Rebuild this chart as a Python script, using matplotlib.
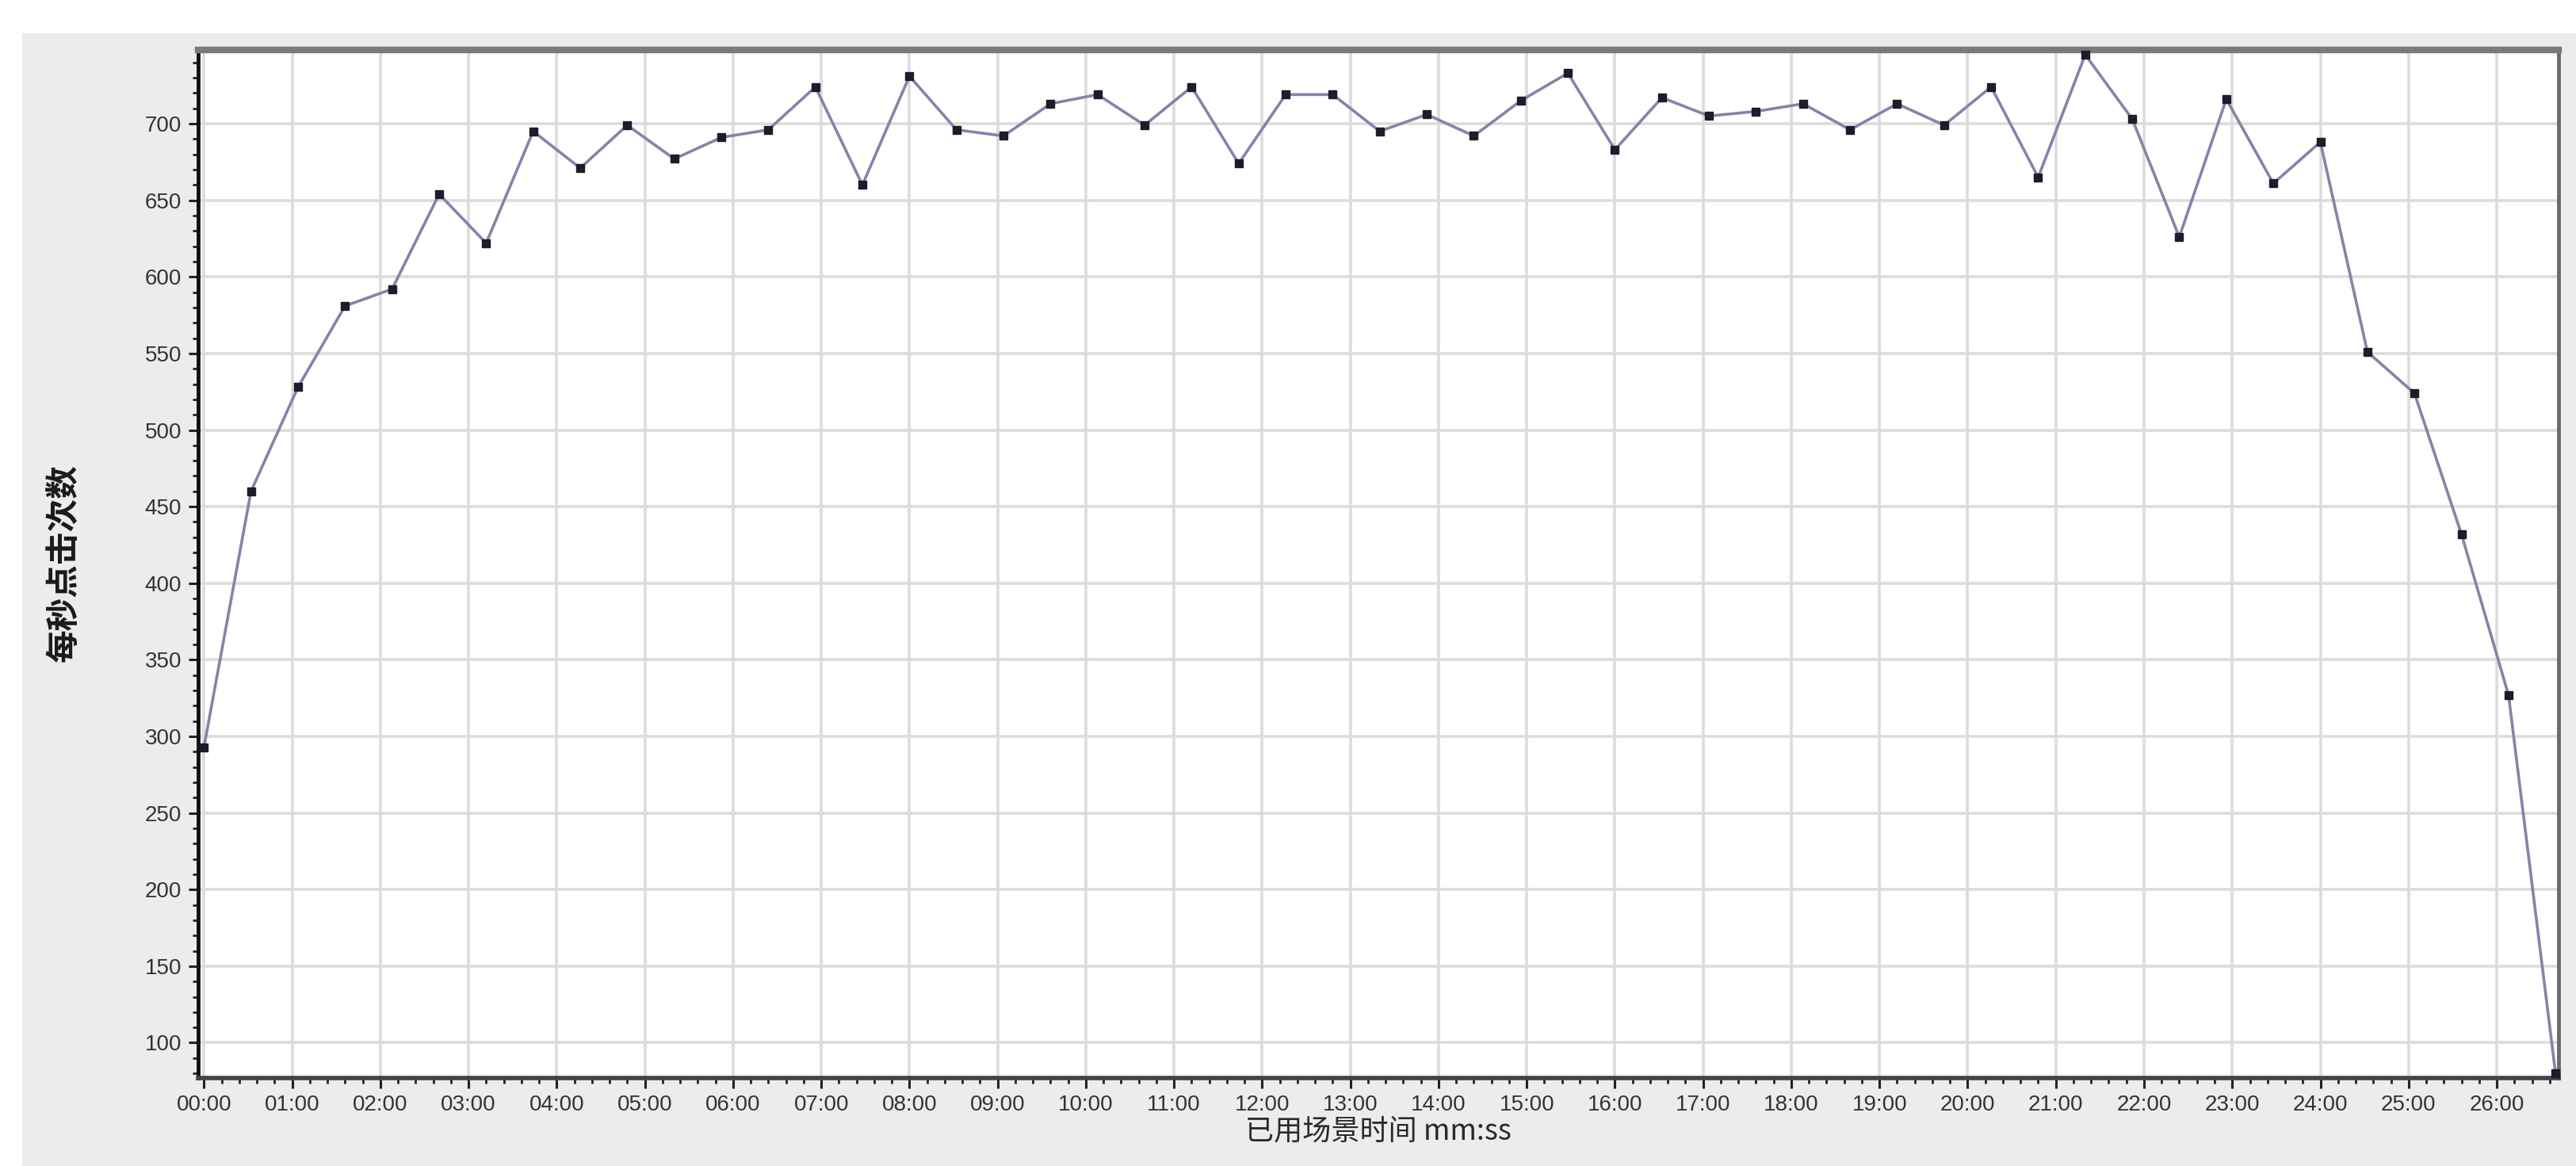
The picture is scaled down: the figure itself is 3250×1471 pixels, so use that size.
# plot.py

import matplotlib
matplotlib.use("Agg")

import matplotlib.pyplot as plt
from matplotlib.patches import Rectangle
from matplotlib.ticker import FuncFormatter, MultipleLocator

plt.rcParams["font.family"] = ["Liberation Sans", "Noto Sans CJK SC", "DejaVu Sans"]


# =========================================
# Data
# =========================================

# elapsed time (seconds)
elapsed_s = [
    0, 32, 64, 96, 128, 160, 192, 224, 256, 288,
    320, 352, 384, 416, 448, 480, 512, 544, 576, 608,
    640, 672, 704, 736, 768, 800, 832, 864, 896, 928,
    960, 992, 1024, 1056, 1088, 1120, 1152, 1184, 1216, 1248,
    1280, 1312, 1344, 1376, 1408, 1440, 1472, 1504, 1536, 1568,
    1600,
]

# hits per second
hits = [
    293, 460, 528, 581, 592, 654, 622, 695, 671, 699,
    677, 691, 696, 724, 660, 731, 696, 692, 713, 719,
    699, 724, 674, 719, 719, 695, 706, 692, 715, 733,
    683, 717, 705, 708, 713, 696, 713, 699, 724, 665,
    745, 703, 626, 716, 661, 688, 551, 524, 432, 327,
    80,
]

y_ticks = [100, 150, 200, 250, 300, 350, 400, 450, 500, 550, 600, 650, 700]

y_label = "每秒点击次数"
x_label = "已用场景时间 mm:ss"


# =========================================
# Figure
# =========================================

fig = plt.figure(figsize=(32.5, 14.71), dpi=100, facecolor="white")

# grey panel behind the chart
panel = Rectangle(
    (28 / 3250, 0), 1, 1 - 42 / 1471,
    transform=fig.transFigure,
    facecolor="#ececec",
    edgecolor="none",
    zorder=-10,
)
fig.add_artist(panel)

ax = fig.add_axes([0.0769, 0.0755, 0.9163, 0.8815])
ax.set_facecolor("white")


# =========================================
# Line
# =========================================

ax.plot(
    elapsed_s,
    hits,
    color="#8484aa",
    linewidth=2.6,
    marker="s",
    markersize=7,
    markerfacecolor="#1c1c2a",
    markeredgecolor="#1c1c2a",
    clip_on=False,
    zorder=3,
)


# =========================================
# Axes
# =========================================

ax.set_xlim(-4, 1602)
ax.set_ylim(77, 748)

ax.xaxis.set_major_locator(MultipleLocator(60))
ax.xaxis.set_minor_locator(MultipleLocator(12))
ax.xaxis.set_major_formatter(
    FuncFormatter(lambda s, pos: f"{int(round(s)) // 60:02d}:{int(round(s)) % 60:02d}")
)

ax.set_yticks(y_ticks)
ax.yaxis.set_minor_locator(MultipleLocator(10))

ax.tick_params(axis="both", which="major", direction="out", length=9, width=2.2,
               colors="#222222", labelsize=20, labelcolor="#333333", pad=6)
ax.tick_params(axis="both", which="minor", direction="out", length=5, width=2,
               colors="#222222")


# =========================================
# Grid / Spines
# =========================================

ax.grid(True, which="major", color="#dcdcdc", linewidth=2.6)
ax.set_axisbelow(True)

ax.spines["left"].set_color("#111111")
ax.spines["left"].set_linewidth(3.5)
ax.spines["bottom"].set_color("#444444")
ax.spines["bottom"].set_linewidth(4)
ax.spines["top"].set_color("#7a7a7a")
ax.spines["top"].set_linewidth(6)
ax.spines["right"].set_color("#6a6a6a")
ax.spines["right"].set_linewidth(3.5)


# =========================================
# Labels
# =========================================

ax.set_xlabel(x_label, fontsize=26, color="#2a2a2a", fontweight="medium",
              family=["Noto Sans CJK SC", "DejaVu Sans"], labelpad=2)

fig.text(0.0250, 0.517, y_label, rotation=90, fontsize=30, color="#1a1a1a",
         fontweight="bold",
         family=["Noto Sans CJK SC", "DejaVu Sans"], ha="center", va="center")


# =========================================
# Save
# =========================================

fig.savefig("out.png", dpi=100, facecolor=fig.get_facecolor())

print("Saved : out.png")
